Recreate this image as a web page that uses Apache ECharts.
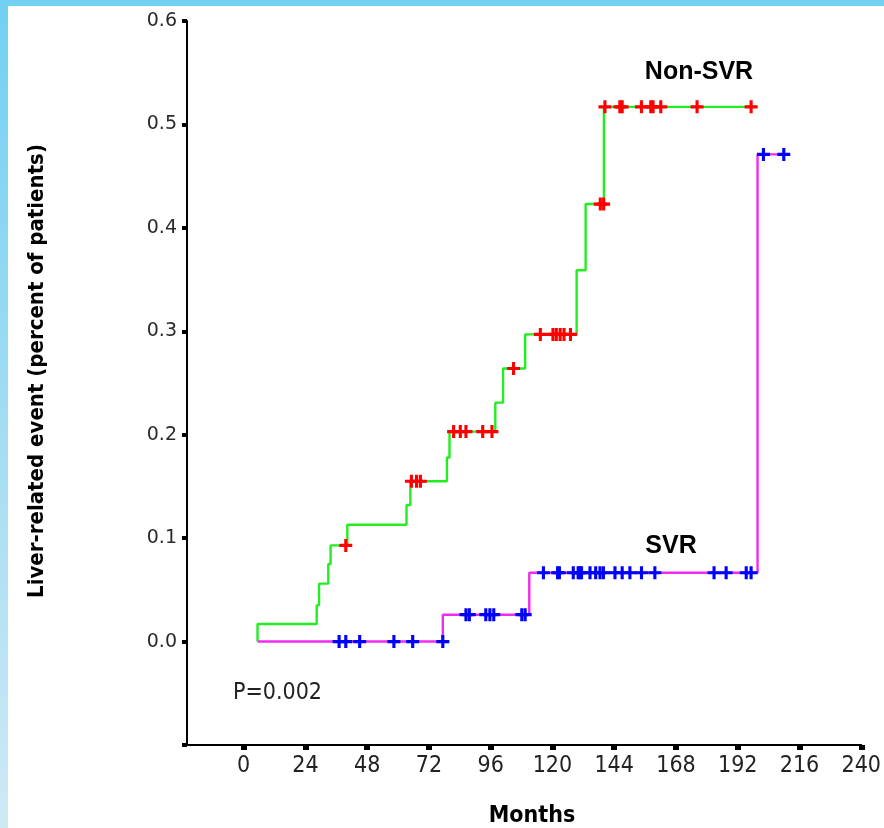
<!DOCTYPE html>
<html>
<head>
<meta charset="utf-8">
<script src="https://cdn.jsdelivr.net/npm/echarts@6/dist/echarts.min.js"></script>
<style>
html,body{margin:0;padding:0;background:#fff;}
#chart{width:884px;height:828px;}
</style>
</head>
<body>
<div id="chart"></div>
<script>
// ---- data (months, cumulative proportion with liver-related event) ----
const nonSvrTimes  = [5.4, 5.4, 28.4, 29.3, 32.9, 33.8, 40.3, 63.3, 64.8, 79.0, 80.0, 97.8, 100.8, 109.4, 129.4, 132.9, 140.0, 199.1];
const nonSvrValues = [0, 0.017, 0.035, 0.056, 0.075, 0.093, 0.113, 0.132, 0.155, 0.178, 0.203, 0.231, 0.264, 0.297, 0.359, 0.423, 0.517, 0.517];
const nonSvrCensorTimes  = [39.7, 65.2, 67.2, 68.7, 81.6, 84.2, 86.4, 92.9, 96.5, 104.9, 115.3, 120.2, 121.5, 123.0, 124.5, 127.0, 138.6, 139.9, 140.4, 146.2, 147.1, 154.6, 158.2, 159.1, 162.1, 176.2, 197.2];
const nonSvrCensorValues = [0.093, 0.155, 0.155, 0.155, 0.203, 0.203, 0.203, 0.203, 0.203, 0.264, 0.297, 0.297, 0.297, 0.297, 0.297, 0.297, 0.423, 0.423, 0.517, 0.517, 0.517, 0.517, 0.517, 0.517, 0.517, 0.517, 0.517];

const svrTimes  = [5.4, 77.4, 111.0, 199.7, 209.9];
const svrValues = [0, 0.026, 0.0666, 0.471, 0.471];
const svrCensorTimes  = [37.1, 39.7, 45.1, 58.4, 65.7, 77.4, 86.4, 87.7, 94.1, 95.7, 97.2, 108.1, 109.4, 116.5, 122.0, 122.7, 128.1, 130.0, 130.7, 131.3, 134.6, 136.8, 138.5, 139.8, 144.3, 147.1, 150.1, 154.6, 159.8, 182.8, 187.5, 195.3, 197.2, 202.0, 209.9];
const svrCensorValues = [0, 0, 0, 0, 0, 0, 0.026, 0.026, 0.026, 0.026, 0.026, 0.026, 0.026, 0.0666, 0.0666, 0.0666, 0.0666, 0.0666, 0.0666, 0.0666, 0.0666, 0.0666, 0.0666, 0.0666, 0.0666, 0.0666, 0.0666, 0.0666, 0.0666, 0.0666, 0.0666, 0.0666, 0.0666, 0.471, 0.471];

const xTickLabels = [0, 24, 48, 72, 96, 120, 144, 168, 192, 216, 240];
const yTickLabels = ['0.0', '0.1', '0.2', '0.3', '0.4', '0.5', '0.6'];

const zip = (a, b) => a.map((v, i) => [v, b[i]]);
const PLUS = 'path://M3.8,0H6.2V3.8H10V6.2H6.2V10H3.8V6.2H0V3.8H3.8Z';
const narrow = "'DejaVu Sans Condensed',sans-serif";

const chart = echarts.init(document.getElementById('chart'), null, {renderer: 'canvas'});
chart.setOption({
  animation: false,
  backgroundColor: '#ffffff',
  grid: {left: 187, right: 20, top: 21, bottom: 83, containLabel: false},
  xAxis: {
    type: 'value', min: -22, max: 240,
    axisLine: {show: true, onZero: false, lineStyle: {color: '#000', width: 2}},
    axisTick: {show: true, inside: false, length: 5, customValues: xTickLabels, lineStyle: {color: '#000', width: 6}},
    axisLabel: {show: true, customValues: xTickLabels, margin: 10, color: '#222', fontFamily: narrow, fontSize: 23},
    splitLine: {show: false}
  },
  yAxis: {
    type: 'value', min: -0.1, max: 0.6, interval: 0.1,
    axisLine: {show: true, onZero: false, lineStyle: {color: '#000', width: 2}},
    axisTick: {show: true, inside: false, length: 5, lineStyle: {color: '#000', width: 4}},
    axisLabel: {
      show: true, margin: 10, color: '#2a2a2a', fontFamily: "'DejaVu Sans',sans-serif", fontSize: 19,
      formatter: v => { const i = Math.round(v * 10); return i >= 0 ? yTickLabels[i] : ''; }
    },
    splitLine: {show: false}
  },
  series: [
    {type: 'line', name: 'Non-SVR', step: 'end', data: zip(nonSvrTimes, nonSvrValues), showSymbol: false, symbol: 'none',
     lineStyle: {color: '#22ee22', width: 2.4}, z: 2},
    {type: 'line', name: 'SVR', step: 'end', data: zip(svrTimes, svrValues), showSymbol: false, symbol: 'none',
     lineStyle: {color: '#f02cf0', width: 2.4}, z: 2},
    {type: 'scatter', data: zip(nonSvrCensorTimes, nonSvrCensorValues), symbol: PLUS, symbolSize: 13,
     itemStyle: {color: '#ff0000', opacity: 1}, z: 3},
    {type: 'scatter', data: zip(svrCensorTimes, svrCensorValues), symbol: PLUS, symbolSize: 13,
     itemStyle: {color: '#0000ff', opacity: 1}, z: 3}
  ],
  graphic: [
    {type: 'rect', shape: {x: 0, y: 0, width: 884, height: 6}, style: {fill: '#72d0f2'}, silent: true},
    {type: 'rect', shape: {x: 0, y: 0, width: 8, height: 828}, silent: true,
     style: {fill: new echarts.graphic.LinearGradient(0, 0, 0, 1, [{offset: 0, color: '#72d0f2'}, {offset: 1, color: '#cfe9f4'}])}},
    {type: 'text', x: 37, y: 371, rotation: Math.PI / 2,
     style: {text: 'Liver-related event (percent of patients)', fill: '#000', font: "bold 22px " + narrow, align: 'center', verticalAlign: 'middle'}},
    {type: 'text', x: 532, y: 816,
     style: {text: 'Months', fill: '#000', font: "bold 23px " + narrow, align: 'center', verticalAlign: 'middle'}},
    {type: 'text', x: 699, y: 72,
     style: {text: 'Non-SVR', fill: '#000', font: "bold 25px 'Liberation Sans',Arial,sans-serif", align: 'center', verticalAlign: 'middle'}},
    {type: 'text', x: 671, y: 546,
     style: {text: 'SVR', fill: '#000', font: "bold 25px 'Liberation Sans',Arial,sans-serif", align: 'center', verticalAlign: 'middle'}},
    {type: 'text', x: 233, y: 693,
     style: {text: 'P=0.002', fill: '#222', font: "23px " + narrow, align: 'left', verticalAlign: 'middle'}}
  ]
});
</script>
</body>
</html>
